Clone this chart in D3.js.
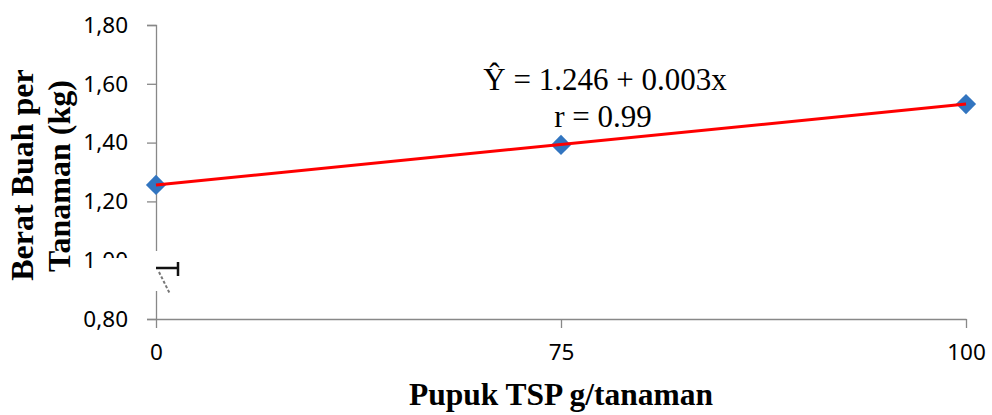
<!DOCTYPE html>
<html>
<head>
<meta charset="utf-8">
<script src="https://cdn.jsdelivr.net/npm/d3@7"></script>
<style>
  html, body { margin: 0; padding: 0; background: #fff; }
  svg { display: block; }
</style>
</head>
<body>
<div id="chart"></div>
<script>
const categories = ["0", "75", "100"];
const beratValues = [1.256, 1.392, 1.531];
const trendValues = [1.256, 1.531];
const trendCategories = ["0", "100"];
const yTicks = [0.8, 1.0, 1.2, 1.4, 1.6, 1.8];
const equationText = "\u0176 = 1.246 + 0.003x";
const rText = "r = 0.99";

const WIDTH = 992;
const HEIGHT = 415;

const svg = d3.select("#chart").append("svg")
  .attr("width", WIDTH)
  .attr("height", HEIGHT);

const x = d3.scalePoint()
  .domain(categories)
  .range([156, 966]);

const y = d3.scaleLinear()
  .domain([0.8, 1.8])
  .range([319, 25]);

const axisColor = "#888";
const tickFont = "'Noto Sans', sans-serif";

// y axis
const yAxis = svg.append("g")
  .attr("transform", "translate(156,0)")
  .call(d3.axisLeft(y).tickValues(yTicks).tickSize(9).tickPadding(19)
    .tickFormat(d => d3.format(".2f")(d).replace(".", ",")));
yAxis.select(".domain").attr("stroke", axisColor).attr("stroke-width", 1.3);
yAxis.selectAll(".tick line").attr("stroke", axisColor).attr("stroke-width", 1.3);
yAxis.selectAll(".tick text")
  .attr("font-family", tickFont)
  .attr("font-size", 22.5)
  .attr("fill", "#000");

// x axis
const xAxis = svg.append("g")
  .attr("transform", "translate(0,319)")
  .call(d3.axisBottom(x).tickSize(9).tickSizeOuter(0).tickPadding(16));
xAxis.select(".domain").attr("stroke", axisColor).attr("stroke-width", 1.3);
xAxis.selectAll(".tick line").attr("stroke", axisColor).attr("stroke-width", 1.3);
xAxis.selectAll(".tick text")
  .attr("font-family", tickFont)
  .attr("font-size", 22.5)
  .attr("fill", "#000");

// trend line
const line = d3.line()
  .x(d => x(d.cat))
  .y(d => y(d.value));

// markers
svg.selectAll(".point")
  .data(categories.map((c, i) => ({ cat: c, value: beratValues[i] })))
  .enter()
  .append("path")
  .attr("class", "point")
  .attr("transform", d => `translate(${x(d.cat)},${y(d.value)})`)
  .attr("d", d3.symbol(d3.symbolDiamond2, 260)())
  .attr("fill", "#3275c0");

svg.append("path")
  .datum(trendCategories.map((c, i) => ({ cat: c, value: trendValues[i] })))
  .attr("fill", "none")
  .attr("stroke", "#ff0000")
  .attr("stroke-width", 3)
  .attr("d", line);

// axis break
svg.append("polygon")
  .attr("points", "96,258 140,258 150,251 184,251 184,291 96,291")
  .attr("fill", "#fff");
svg.append("path")
  .attr("d", "M156,268 H178 M178,262 V276")
  .attr("stroke", "#111")
  .attr("stroke-width", 2.5)
  .attr("fill", "none");
svg.append("path")
  .attr("d", "M159,272 L170,294")
  .attr("stroke", "#777")
  .attr("stroke-width", 2)
  .attr("stroke-dasharray", "3,2")
  .attr("fill", "none");

// equation
const serif = "'Liberation Serif', 'Times New Roman', serif";
svg.append("text")
  .attr("x", 605)
  .attr("y", 90)
  .attr("text-anchor", "middle")
  .attr("font-family", serif)
  .attr("font-size", 31)
  .text(equationText);
svg.append("text")
  .attr("x", 603)
  .attr("y", 127)
  .attr("text-anchor", "middle")
  .attr("font-family", serif)
  .attr("font-size", 31)
  .text(rText);

// axis titles
svg.append("text")
  .attr("transform", "translate(33,175) rotate(-90)")
  .attr("text-anchor", "middle")
  .attr("font-family", serif)
  .attr("font-weight", "bold")
  .attr("font-size", 32)
  .text("Berat Buah per");
svg.append("text")
  .attr("transform", "translate(70,176) rotate(-90)")
  .attr("text-anchor", "middle")
  .attr("font-family", serif)
  .attr("font-weight", "bold")
  .attr("font-size", 32)
  .text("Tanaman (kg)");

svg.append("text")
  .attr("x", 561)
  .attr("y", 405)
  .attr("text-anchor", "middle")
  .attr("font-family", serif)
  .attr("font-weight", "bold")
  .attr("font-size", 31.5)
  .text("Pupuk TSP g/tanaman");
</script>
</body>
</html>
